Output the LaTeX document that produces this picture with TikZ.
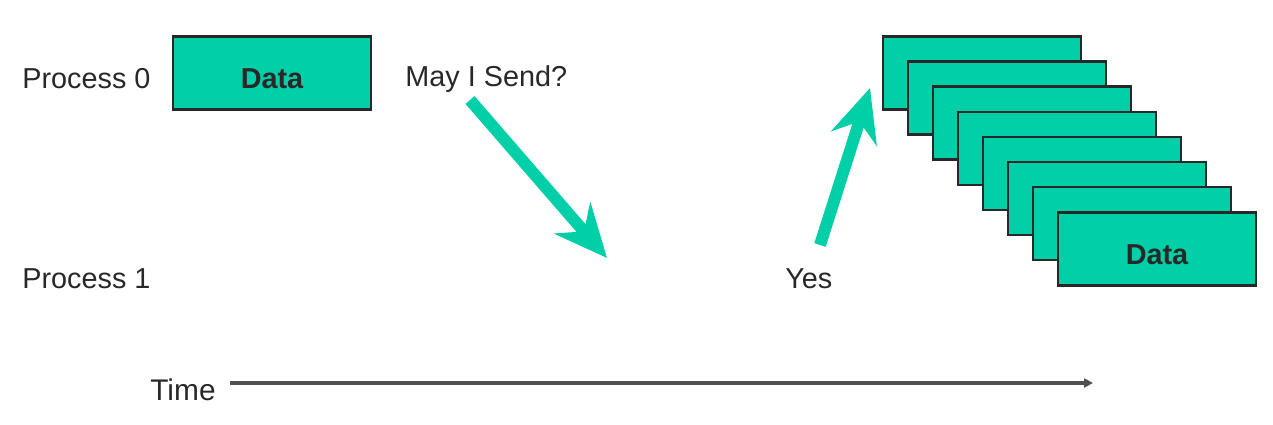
\documentclass[tikz,border=0pt]{standalone}
\usepackage{fontspec}
\setmainfont{Liberation Sans}
\usetikzlibrary{arrows.meta, positioning}

\definecolor{msgteal}{RGB}{0,207,168}
\definecolor{edgegray}{RGB}{40,40,40}
\definecolor{timegray}{RGB}{80,80,80}

\begin{document}
\begin{tikzpicture}[x=0.02cm, y=-0.02cm, % one unit is one pixel of the reference
		font=\fontsize{16.4}{19}\selectfont, text=edgegray,
		databox/.style={draw=edgegray, fill=msgteal, line width=1.4pt, inner sep=0pt,
			minimum width=3.96cm, minimum height=1.46cm, font=\fontsize{16.4}{19}\selectfont\bfseries},
		label/.style={anchor=west, inner sep=0pt},
		msgarrow/.style={draw=msgteal, line width=6.8pt,
			-{Stealth[length=30pt, width=27pt, inset=10pt]}},
		timeline/.style={draw=timegray, line width=1.9pt, -{Triangle[length=5pt, width=5pt]}}]
	
	% Fix the page to the size of the reference
	\useasboundingbox (0, 0) rectangle (1273, 425);
	
	% Rows for the two processes
	\node[label] (proc0) at (22, 79) {Process 0};
	\node[label] (proc1) at (22, 279) {Process 1};
	
	% The single message waiting on process 0
	\node[databox] (data0) at (272, 73) {\raisebox{-3pt}[\height][0pt]{Data}};
	
	% Handshake: request and answer
	\node[label] (ask) at (405, 79) {May I Send?};
	\node[label] (yes) at (785, 279) {Yes};
	\coordinate (ask tail) at (470, 100);
	\coordinate (ask tip) at (607, 258);
	\coordinate (yes tail) at (820, 245);
	\coordinate (yes tip) at (870, 88);
	\draw[msgarrow] (ask tail) -- (ask tip);
	\draw[msgarrow] (yes tail) -- (yes tip);
	
	% Stack of messages sent after the answer
	\foreach \i in {0,...,6}
		\node[databox] (stack\i) at (982 + 25*\i, 73 + 25.1*\i) {};
	\node[databox] (stack7) at (1157, 249) {\raisebox{-3pt}[\height][0pt]{Data}};
	
	% Time axis
	\node[label, font=\fontsize{17}{20}\selectfont] (time) at (150, 390) {Time};
	\coordinate (time end) at (1093, 383);
	\draw[timeline] ([xshift=8pt]time.east |- time end) -- (time end);
	
\end{tikzpicture}
\end{document}
